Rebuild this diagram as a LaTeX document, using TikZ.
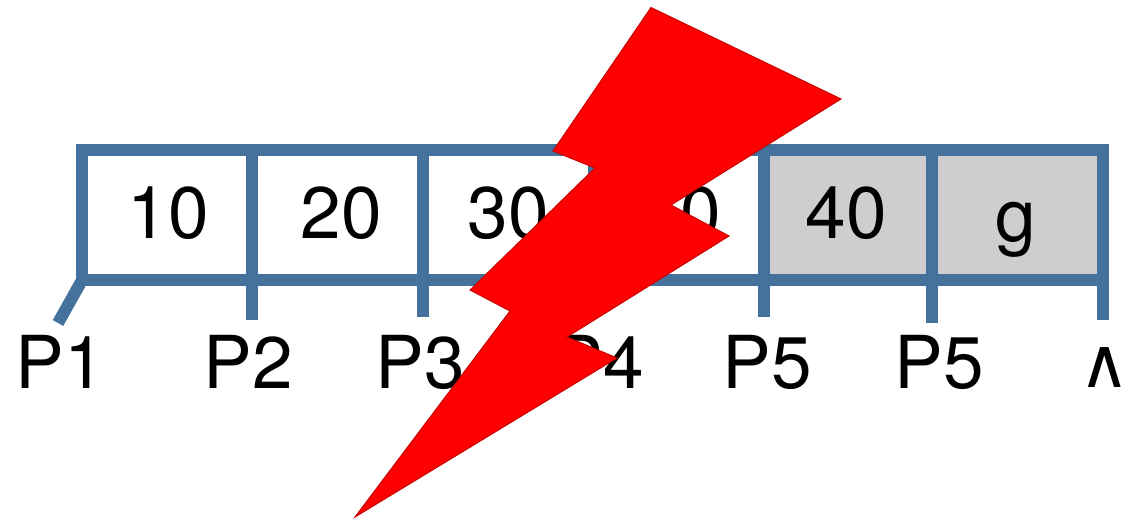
\documentclass[tikz,border=0pt]{standalone}
\usepackage{fontspec}
\setmainfont{TeX Gyre Heros}
\newfontfamily\symfont{DejaVu Sans}
\definecolor{barblue}{HTML}{44729D}
\definecolor{cellgray}{HTML}{CFCDCD}
\definecolor{boltred}{HTML}{FF0000}
\definecolor{boltedge}{HTML}{C80000}
\tikzset{
  cellbox/.style={draw=barblue,line width=12pt,inner sep=0pt,outer sep=0pt,minimum height=130pt,rectangle},
  tick/.style={draw=barblue,line width=12pt},
  big/.style={font=\fontsize{73}{73}\selectfont,anchor=base,inner sep=0pt,text=black},
  bolt/.style={fill=boltred,draw=boltedge,line width=1pt,line join=miter}
}
\begin{document}
\begin{tikzpicture}[x=1pt,y=-1pt]
\useasboundingbox (0,0) rectangle (1122,528);
% cells
\node[cellbox,minimum width=170pt] (c1) at (167,215) {};
\node[cellbox,minimum width=171pt] (c2) at (337.5,215) {};
\node[cellbox,minimum width=171pt] (c3) at (508.5,215) {};
\node[cellbox,minimum width=170pt] (c4) at (679,215) {};
\node[cellbox,minimum width=168pt,fill=cellgray] (c5) at (848,215) {};
\node[cellbox,minimum width=171pt,fill=cellgray] (c6) at (1017.5,215) {};
% redraw of shared walls over the gray fill
\draw[tick] (c4.north east) -- (c4.south east);
% cell texts
\node[big] (t1) at (168,238) {10};
\node[big] (t2) at (341,238) {20};
\node[big] (t3) at (508,238) {30};
\node[big] (t4) at (680,238) {40};
\node[big] (t5) at (846,238) {40};
\node[big] (t6) at (1016,241) {g};
% pointer free ends
\coordinate (e1) at (58,323);
\coordinate (e2) at (252,320);
\coordinate (e3) at (423,317);
\coordinate (e5) at (764,317);
\coordinate (e6) at (932,323);
\coordinate (e7) at (1103,320);
% pointer ticks
\draw[tick] (81,282) -- (e1);
\draw[tick] (c2.south west) -- (e2);
\draw[tick] (c3.south west) -- (e3);
\draw[tick] (c5.south west) -- (e5);
\draw[tick] (c6.south west) -- (e6);
\draw[tick] (c6.south east) -- (e7);
% labels
\node[big] (p1) at (60,388) {P1};
\node[big] (p2) at (248.5,388) {P2};
\node[big] (p3) at (420,388) {P3};
\node[big] (p4) at (599,388) {P4};
\node[big] (p5) at (767.5,388) {P5};
\node[big] (p6) at (939,388) {P5};
\node[anchor=base,inner sep=0pt,font=\symfont\fontsize{69}{69}\selectfont] (p7) at (1105,387) {∧};
% lightning bolt
\path[bolt] (651,7.5) -- (841,99) -- (671,205) -- (729,236) -- (567,337) -- (617,358)
  -- (355,517) -- (510,311) -- (470,290) -- (595,168) -- (553,151) -- cycle;
\end{tikzpicture}
\end{document}
